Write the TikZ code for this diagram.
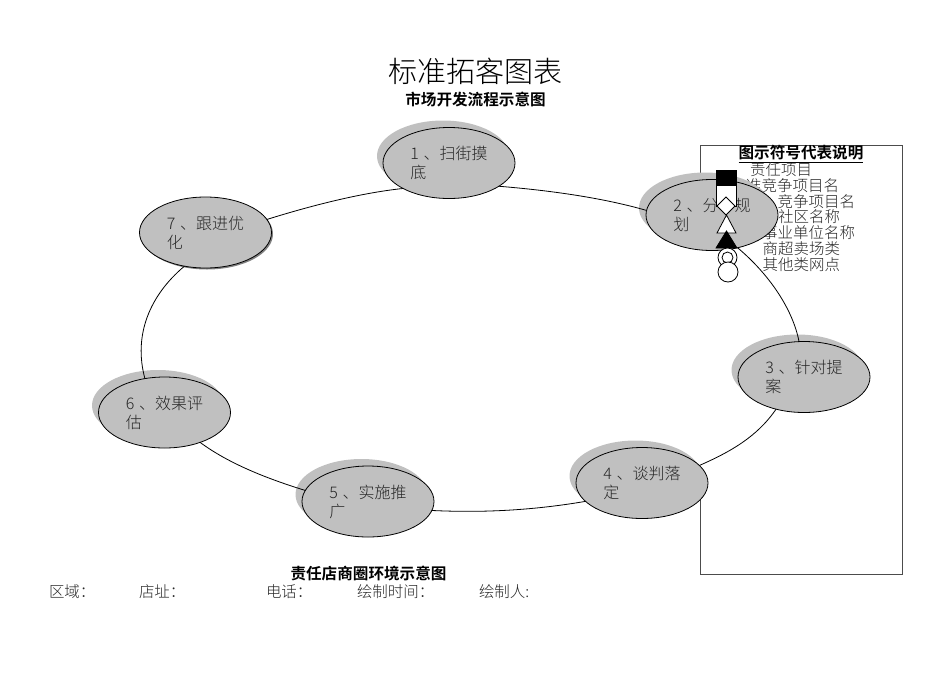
\documentclass[tikz,border=0pt]{standalone}
\usepackage{fontspec}
\setmainfont{Liberation Serif}
\newfontfamily\cjk{Noto Sans CJK SC Light}[BoldFont={Noto Sans CJK SC Bold}]
\usetikzlibrary{shapes.geometric}
\newcommand{\stepnum}[1]{#1\hspace{0.3em}、}
\definecolor{ellgray}{HTML}{C0C0C0}
\tikzset{
  ell/.style={ellipse,draw=black,fill=ellgray,line width=0.6pt,minimum width=99pt,minimum height=53.25pt,inner sep=0pt,outer sep=0pt,font=\cjk\fontsize{12}{14.3}\selectfont,align=left,text=black!85},
  shad/.style={fill=ellgray},
  conn/.style={draw=black,line width=0.6pt},
  frame/.style={draw=black!70,line width=0.6pt},
  sym/.style={draw=black,line width=0.6pt,fill=white},
  symb/.style={draw=black,line width=0.6pt,fill=black},
  lab/.style={inner sep=0pt,outer sep=0pt,font=\cjk\fontsize{11.6}{14}\selectfont,text=black!85},
  head/.style={inner sep=0pt,outer sep=0pt,font=\cjk\bfseries\fontsize{11.7}{14}\selectfont},
  bigtitle/.style={inner sep=0pt,outer sep=0pt,font=\cjk\fontsize{21.8}{26}\selectfont},
}
\begin{document}
\begin{tikzpicture}[x=0.75pt,y=-0.75pt]
\path[use as bounding box] (0,0) rectangle (950,672);
% titles
\node[bigtitle] (title) at (475.5,71) {标准拓客图表};
\node[head] (subtitle) at (475.5,100) {市场开发流程示意图};
% legend frame and its text (beneath the ellipses)
\draw[frame] (700,200) -- (700,145) -- (902,145) -- (902,574) -- (700,574) -- (700,490);
\node[head] (lhead) at (801,154) {\underline{图示符号代表说明}};
\node[lab,anchor=east] (l1) at (812,170) {责任项目};
\node[lab,anchor=east] (l2) at (839,186) {准竞争项目名};
\node[lab,anchor=east] (l3) at (855,202) {竞争项目名};
\node[lab,anchor=east] (l4) at (840,217) {社区名称};
\node[lab,anchor=east] (l5) at (855,233) {事业单位名称};
\node[lab,anchor=east] (l6) at (840,249) {商超卖场类};
\node[lab,anchor=east] (l7) at (840,265) {其他类网点};
% shadows
\fill[shad] (443,156) ellipse [x radius=66,y radius=35.5];
\fill[shad] (705,208) ellipse [x radius=66,y radius=35.5];
\fill[shad] (797.5,370) ellipse [x radius=66,y radius=35.5];
\fill[shad] (635.5,476) ellipse [x radius=66,y radius=35.5];
\fill[shad] (361.5,494.5) ellipse [x radius=66,y radius=35.5];
\fill[shad] (158,405.5) ellipse [x radius=66,y radius=35.5];
\fill[black!50] (207,234) ellipse [x radius=66,y radius=35.5];
% steps
\node[ell] (n1) at (449,163) {\stepnum{1}扫街摸\\底\hspace{4em}};
\node[ell] (n2) at (712,215) {\stepnum{2}分\hspace{1em}规\\划\hspace{4em}};
\node[ell] (n3) at (804,377) {\stepnum{3}针对提\\案\hspace{4em}};
\node[ell] (n4) at (642,483) {\stepnum{4}谈判落\\定\hspace{4em}};
\node[ell] (n5) at (368,501.5) {\stepnum{5}实施推\\广\hspace{4em}};
\node[ell] (n6) at (164.5,412.5) {\stepnum{6}效果评\\估\hspace{4em}};
\node[ell] (n7) at (205.5,232.5) {\stepnum{7}跟进优\\化\hspace{4em}};
% connectors
\draw[conn] (n1.-25) .. controls (545,190) and (600,197) .. (n2.176);
\draw[conn] (n2.-52) .. controls (770,275) and (793,310) .. (n3.98);
\draw[conn] (n3.229) .. controls (757,437) and (730,452) .. (n4.17);
\draw[conn] (n4.198) .. controls (535,510) and (485,513) .. (n5.-8);
\draw[conn] (n5.170) .. controls (265,478) and (228,463) .. (n6.-40);
\draw[conn] (n6.120) .. controls (133,335) and (150,295) .. (n7.238);
\draw[conn] (n7.12.5) .. controls (310,206) and (360,193) .. (n1.209.5);
% legend symbols
\draw[symb] (716,170) rectangle (736,185);
\draw[sym] (716,185) rectangle (736,206);
\draw[sym] (726,197) -- (735,206) -- (726,215) -- (717,206) -- cycle;
\draw[sym] (726.5,215) -- (736,233) -- (717,233) -- cycle;
\draw[symb] (726.5,231) -- (737,248) -- (716,248) -- cycle;
\draw[sym] (727.5,257.5) circle [radius=9.5];
\draw[sym] (727.5,257.5) circle [radius=5.5];
\draw[sym] (728,272) circle [radius=10];
% footer
\node[head] (foot) at (368.5,574) {责任店商圈环境示意图};
\node[lab,anchor=west] (f1) at (49,592) {区域：};
\node[lab,anchor=west] (f2) at (139,592) {店址：};
\node[lab,anchor=west] (f3) at (266,592) {电话：};
\node[lab,anchor=west] (f4) at (357,592) {绘制时间：};
\node[lab,anchor=west] (f5) at (479,592) {绘制人:};
\end{tikzpicture}
\end{document}
